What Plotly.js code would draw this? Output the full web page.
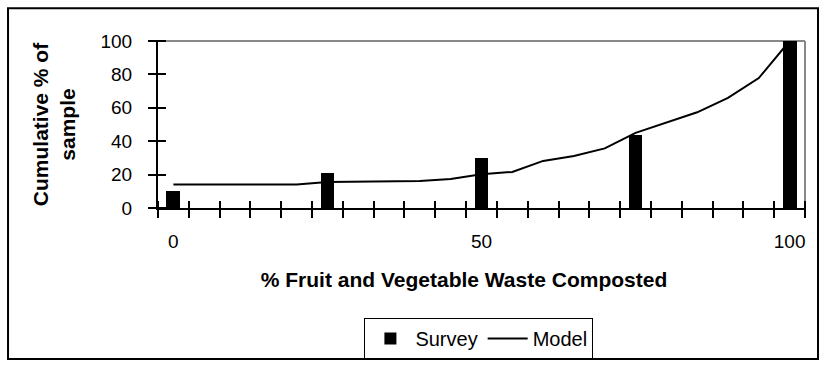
<!DOCTYPE html>
<html>
<head>
<meta charset="utf-8">
<script src="https://cdn.plot.ly/plotly-3.0.1.min.js"></script>
<style>
  html, body { margin: 0; padding: 0; background: #fff; }
  #chart { width: 828px; height: 370px; }
</style>
</head>
<body>
<div id="chart"></div>
<script>
// Survey: cumulative % of sample at each composting level
const surveyX = [0, 25, 50, 75, 100];
const surveyY = [10, 21, 30, 44, 100];

// Model curve
const modelX = [0, 5, 10, 15, 20, 25, 30, 35, 40, 45, 50, 55, 60, 65, 70, 75, 80, 85, 90, 95, 100];
const modelY = [14, 14, 14, 14, 14, 15.5, 15.7, 15.8, 16.2, 17.3, 20.2, 21.6, 28.2, 31.1, 35.7, 45, 51, 57.3, 65.9, 77.8, 100];

// Axis ticks
const xCategoryBounds = [-2.5, 2.5, 7.5, 12.5, 17.5, 22.5, 27.5, 32.5, 37.5, 42.5, 47.5, 52.5, 57.5, 62.5, 67.5, 72.5, 77.5, 82.5, 87.5, 92.5, 97.5, 102.5];
const xLabelVals = [0, 50, 100];
const yTickVals = [0, 20, 40, 60, 80, 100];

const xRange = [-2.5, 102.5];
const yRange = [0, 100];

const FONT = 'Liberation Sans, Arial, sans-serif';

// invisible helper trace so that an overlay axis gets drawn
function anchorTrace(xa, ya) {
  return {
    type: 'scatter', mode: 'markers',
    x: [xLabelVals[0]], y: [null],
    xaxis: xa, yaxis: ya,
    marker: { opacity: 0 },
    showlegend: false, hoverinfo: 'skip'
  };
}

const traces = [
  {
    type: 'bar',
    name: 'Survey',
    x: surveyX,
    y: surveyY,
    width: 2.25,
    marker: { color: '#000000', line: { width: 0 } },
    hoverinfo: 'x+y'
  },
  {
    type: 'scatter',
    mode: 'lines',
    name: 'Model',
    x: modelX,
    y: modelY,
    line: { color: '#000000', width: 2 }
  },
  anchorTrace('x2', 'y'),
  anchorTrace('x3', 'y'),
  anchorTrace('x', 'y2')
];

const layout = {
  width: 828,
  height: 370,
  margin: { l: 158, r: 23, t: 41, b: 161, pad: 0 },
  paper_bgcolor: '#ffffff',
  plot_bgcolor: '#ffffff',
  font: { family: FONT, color: '#000000', size: 19 },
  bargap: 0,
  showlegend: true,
  legend: {
    orientation: 'h',
    x: 0.496, xanchor: 'center',
    y: -0.649, yanchor: 'top',
    bordercolor: '#000000',
    borderwidth: 1,
    bgcolor: '#ffffff',
    font: { family: FONT, size: 20, color: '#000000' },
    itemwidth: 40
  },
  // main x axis: line + lower half of the category-boundary ticks
  xaxis: {
    range: xRange,
    showline: true, linecolor: '#000000', linewidth: 2,
    tickmode: 'array', tickvals: xCategoryBounds,
    ticks: 'outside', ticklen: 8, tickwidth: 2, tickcolor: '#000000',
    showticklabels: false,
    showgrid: false, zeroline: false
  },
  // full-length crossing ticks, axis lifted by half a tick
  xaxis2: {
    overlaying: 'x', anchor: 'free', position: 8 / 168,
    range: xRange,
    showline: false,
    tickmode: 'array', tickvals: xCategoryBounds,
    ticks: 'outside', ticklen: 16, tickwidth: 2, tickcolor: '#000000',
    showticklabels: false,
    showgrid: false, zeroline: false
  },
  // labels + title
  xaxis3: {
    overlaying: 'x', anchor: 'y',
    range: xRange,
    showline: false,
    tickmode: 'array', tickvals: xLabelVals,
    ticks: '',
    showticklabels: true,
    tickfont: { family: FONT, size: 19, color: '#000000' },
    ticklabelstandoff: 20,
    showgrid: false, zeroline: false,
    title: {
      text: '% Fruit and Vegetable Waste Composted&nbsp;&nbsp;&nbsp;&nbsp;&nbsp;&nbsp;',
      font: { family: FONT, size: 21, weight: 'bold', color: '#000000' },
      standoff: 21
    }
  },
  yaxis: {
    range: yRange,
    showline: true, linecolor: '#000000', linewidth: 2,
    tickmode: 'array', tickvals: yTickVals,
    ticks: 'outside', ticklen: 8, tickwidth: 2, tickcolor: '#000000',
    tickfont: { family: FONT, size: 19, color: '#000000' },
    ticklabelstandoff: 12,
    showgrid: false, zeroline: false,
    title: {
      text: 'Cumulative % of<br>sample',
      font: { family: FONT, size: 21, weight: 'bold', color: '#000000' },
      standoff: 19
    }
  },
  yaxis2: {
    overlaying: 'y', anchor: 'free', position: 8 / 647, side: 'left',
    range: yRange,
    showline: false,
    tickmode: 'array', tickvals: yTickVals,
    ticks: 'outside', ticklen: 16, tickwidth: 2, tickcolor: '#000000',
    showticklabels: false,
    showgrid: false, zeroline: false
  },
  shapes: [
    { type: 'line', xref: 'paper', yref: 'paper', x0: 0, x1: 1, y0: 1, y1: 1,
      line: { color: '#888888', width: 2 }, layer: 'below' },
    { type: 'line', xref: 'paper', yref: 'paper', x0: 1, x1: 1, y0: 0, y1: 1,
      line: { color: '#888888', width: 2 }, layer: 'below' },
    { type: 'rect', xref: 'paper', yref: 'paper',
      x0: -0.2318, x1: 1.0201, y0: -0.9048, y1: 1.1964,
      line: { color: '#000000', width: 2 }, fillcolor: 'rgba(0,0,0,0)' }
  ]
};

Plotly.newPlot('chart', traces, layout, { displayModeBar: false, staticPlot: true });
</script>
</body>
</html>
